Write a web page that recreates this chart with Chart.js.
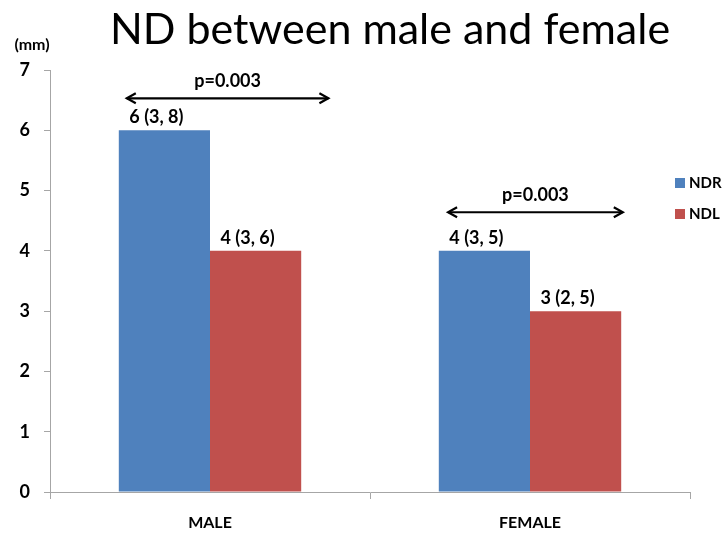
<!DOCTYPE html>
<html><head><meta charset="utf-8">
<script src="https://cdn.jsdelivr.net/npm/chart.js@4"></script>
<style>html,body{margin:0;padding:0;background:#fff}#wrap{width:726px;height:534px}</style>
</head><body><div id="wrap"><canvas id="c" width="726" height="534"></canvas></div>
<script>
const categories = ['MALE', 'FEMALE'];
const seriesNames = ['NDR', 'NDL'];
const ndr = [6, 4];
const ndl = [4, 3];
const ndrLabels = ['6 (3, 8)', '4 (3, 5)'];
const ndlLabels = ['4 (3, 6)', '3 (2, 5)'];
const yTicks = [0, 1, 2, 3, 4, 5, 6, 7];
const pTexts = ['p=0.003', 'p=0.003'];
const arrowY = [6.53, 4.64];
const arrowFrom = [-0.26, 0.744];
const arrowTo = [0.37, 1.29];
const titleText = 'ND between male and female';
const unitText = '(mm)';

const colors = ['#4F81BD', '#C0504D'];
const F = 'Lato, "Open Sans", sans-serif';

const overlay = {
  id: 'overlay',
  afterDatasetsDraw(chart) {
    const ctx = chart.ctx;
    const xs = chart.scales.x, ys = chart.scales.y;
    ctx.save();
    ctx.fillStyle = '#000';
    ctx.font = '43px ' + F;
    ctx.textAlign = 'center'; ctx.textBaseline = 'middle';
    ctx.fillText(titleText, 390, 30);
    ctx.font = 'bold 16px ' + F;
    ctx.fillText(unitText, 32, 45);
    ctx.font = 'bold 18px ' + F;
    ctx.textBaseline = 'alphabetic';
    const lbls = [ndrLabels, ndlLabels];
    chart.data.datasets.forEach((ds, di) => {
      const meta = chart.getDatasetMeta(di);
      meta.data.forEach((bar, i) => {
        ctx.fillText(lbls[di][i], bar.x - 8, bar.y - 7);
      });
    });
    ctx.strokeStyle = '#000'; ctx.lineWidth = 2.2;
    for (let i = 0; i < pTexts.length; i++) {
      const x1 = xs.getPixelForValue(arrowFrom[i]);
      const x2 = xs.getPixelForValue(arrowTo[i]);
      const y = ys.getPixelForValue(arrowY[i]);
      ctx.beginPath(); ctx.moveTo(x1, y); ctx.lineTo(x2, y); ctx.stroke();
      ctx.beginPath(); ctx.moveTo(x1 + 9, y - 5); ctx.lineTo(x1, y); ctx.lineTo(x1 + 9, y + 5); ctx.stroke();
      ctx.beginPath(); ctx.moveTo(x2 - 9, y - 5); ctx.lineTo(x2, y); ctx.lineTo(x2 - 9, y + 5); ctx.stroke();
      ctx.font = 'bold 18px ' + F;
      ctx.textAlign = 'center'; ctx.textBaseline = 'middle';
      ctx.fillText(pTexts[i], (x1 + x2) / 2, y - 17);
    }
    ctx.textAlign = 'left'; ctx.textBaseline = 'middle';
    ctx.font = 'bold 15px ' + F;
    chart.data.datasets.forEach((ds, di) => {
      const y = 183 + di * 31;
      ctx.fillStyle = ds.backgroundColor;
      ctx.fillRect(675, y - 5, 10, 10);
      ctx.fillStyle = '#000';
      ctx.fillText(ds.label, 689, y);
    });
    ctx.restore();
  }
};

new Chart(document.getElementById('c'), {
  type: 'bar',
  data: {
    labels: categories,
    datasets: [
      { label: seriesNames[0], data: ndr, backgroundColor: colors[0] },
      { label: seriesNames[1], data: ndl, backgroundColor: colors[1] }
    ]
  },
  options: {
    responsive: false,
    animation: false,
    devicePixelRatio: 1,
    layout: { padding: { top: 70, right: 36, left: 0, bottom: 0 } },
    plugins: { legend: { display: false }, title: { display: false }, tooltip: { enabled: false } },
    datasets: { bar: { barPercentage: 1, categoryPercentage: 0.57 } },
    scales: {
      x: {
        grid: { drawOnChartArea: false, drawTicks: true, tickLength: 7, color: '#A6A6A6', offset: true },
        border: { color: '#A6A6A6' },
        ticks: { color: '#000', font: { family: F, size: 16, weight: 'bold' }, padding: 14 },
        afterFit(s) { s.height = 42; }
      },
      y: {
        min: 0, max: 7,
        afterBuildTicks(s) { s.ticks = yTicks.map(v => ({ value: v })); },
        grid: { drawOnChartArea: false, drawTicks: true, tickLength: 6, color: '#A6A6A6' },
        border: { color: '#A6A6A6' },
        ticks: { color: '#000', font: { family: F, size: 18, weight: 'bold' }, padding: 14 },
        afterFit(s) { s.width = 50; }
      }
    }
  },
  plugins: [overlay]
});
</script></body></html>
